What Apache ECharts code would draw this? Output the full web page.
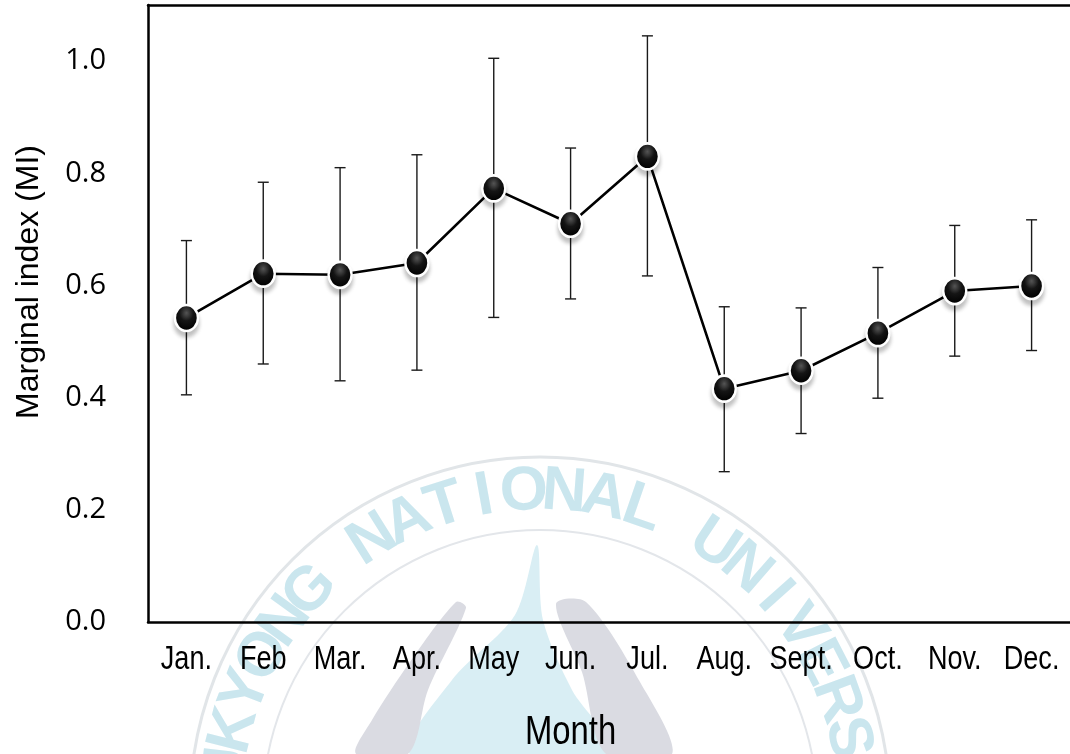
<!DOCTYPE html>
<html>
<head>
<meta charset="utf-8">
<title>Marginal index by month</title>
<script src="https://cdn.jsdelivr.net/npm/echarts@6/dist/echarts.min.js"></script>
<style>
  html, body { margin: 0; padding: 0; background: #ffffff; }
  #chart { width: 1070px; height: 754px; }
</style>
</head>
<body>
<div id="chart"></div>
<script>
// Monthly marginal index (mean with upper/lower error limits)
const months = ['Jan.', 'Feb', 'Mar.', 'Apr.', 'May', 'Jun.', 'Jul.', 'Aug.', 'Sept.', 'Oct.', 'Nov.', 'Dec.'];
const miMean  = [0.542, 0.621, 0.619, 0.640, 0.773, 0.710, 0.830, 0.416, 0.448, 0.515, 0.590, 0.599];
const miUpper = [0.680, 0.784, 0.810, 0.833, 1.005, 0.845, 1.045, 0.562, 0.560, 0.632, 0.707, 0.717];
const miLower = [0.405, 0.460, 0.430, 0.449, 0.543, 0.576, 0.617, 0.268, 0.336, 0.399, 0.474, 0.484];
const yTicks  = [0.0, 0.2, 0.4, 0.6, 0.8, 1.0];

const chart = echarts.init(document.getElementById('chart'), null, { renderer: 'canvas' });

// condensed sans look for the month labels
const NARROW = 0.82;
const sansFamily = '"Liberation Sans", Arial, sans-serif';

// Faint university seal behind the plot
const sealCx = 540, sealCy = 807;
const sealText = 'PUKYONG NATIONAL UNIVERSITY';
const sealElems = [
  { type: 'circle', z: -10, shape: { cx: sealCx, cy: sealCy, r: 350 },
    style: { fill: 'none', stroke: '#e1e5e8', lineWidth: 3 } },
  { type: 'circle', z: -10, shape: { cx: sealCx, cy: sealCy, r: 277 },
    style: { fill: 'none', stroke: '#e3e6ea', lineWidth: 2 } },
  { type: 'polygon', z: -10,
    shape: { points: [[537, 545], [543, 620], [572, 690], [612, 754], [410, 754], [452, 680], [515, 615]], smooth: 0.3 },
    style: { fill: '#d9eef4' } },
  { type: 'polygon', z: -9,
    shape: { points: [[456, 602], [410, 662], [372, 720], [356, 754], [408, 754], [428, 690], [466, 608]], smooth: 0.3 },
    style: { fill: '#dadbe2' } },
  { type: 'polygon', z: -9,
    shape: { points: [[556, 604], [582, 672], [606, 754], [672, 754], [640, 682], [586, 602]], smooth: 0.3 },
    style: { fill: '#dadbe2' } }
];
for (let i = 0; i < sealText.length; i++) {
  const ch = sealText[i];
  if (ch === ' ') continue;
  const ang = (i - 12.4) * 7.3 * Math.PI / 180;
  const r = 315;
  sealElems.push({
    type: 'text', z: -8,
    x: sealCx + r * Math.sin(ang),
    y: sealCy - r * Math.cos(ang),
    rotation: -ang,
    style: {
      text: ch, fill: '#cae6ee',
      font: 'bold 62px ' + sansFamily,
      align: 'center', verticalAlign: 'middle'
    }
  });
}

const option = {
  backgroundColor: '#ffffff',
  animation: false,
  grid: { left: 148, top: 5, width: 924, height: 617, show: false },
  xAxis: [
    {
      type: 'category',
      data: months,
      boundaryGap: true,
      axisLine: { lineStyle: { color: '#000', width: 2.5 } },
      axisTick: { inside: true, length: 9, lineStyle: { color: '#000', width: 2 } },
      axisLabel: { show: false },
      splitLine: { show: false }
    },
    {
      // top frame line
      type: 'category',
      data: months,
      position: 'top',
      axisLine: { show: true, lineStyle: { color: '#000', width: 2.5 } },
      axisTick: { show: false },
      axisLabel: { show: false },
      splitLine: { show: false }
    }
  ],
  yAxis: {
    type: 'value',
    min: 0, max: 1.1, interval: 0.2,
    axisLine: { show: true, lineStyle: { color: '#000', width: 2.5 } },
    axisTick: { inside: true, length: 10, lineStyle: { color: '#000', width: 2 } },
    axisLabel: {
      margin: 42, color: '#000', fontSize: 29,
      fontFamily: '"Open Sans", "Noto Sans", sans-serif',
      showMaxLabel: false,
      formatter: function (v) {
        return yTicks.some(t => Math.abs(t - v) < 1e-6) ? v.toFixed(1) : '';
      }
    },
    splitLine: { show: false }
  },
  graphic: sealElems,
  series: [
    {
      // error bars with caps
      type: 'custom',
      z: 1,
      data: months.map((m, i) => [i, miLower[i], miUpper[i]]),
      renderItem: function (params, api) {
        const i = api.value(0);
        const lo = api.coord([i, api.value(1)]);
        const hi = api.coord([i, api.value(2)]);
        const cap = 5.5;
        const st = { stroke: '#1a1a1a', lineWidth: 1.4 };
        return {
          type: 'group',
          children: [
            { type: 'line', shape: { x1: hi[0], y1: hi[1], x2: lo[0], y2: lo[1] }, style: st },
            { type: 'line', shape: { x1: hi[0] - cap, y1: hi[1], x2: hi[0] + cap, y2: hi[1] }, style: st },
            { type: 'line', shape: { x1: lo[0] - cap, y1: lo[1], x2: lo[0] + cap, y2: lo[1] }, style: st }
          ]
        };
      },
      silent: true
    },
    {
      type: 'line',
      z: 3,
      data: miMean,
      symbol: 'circle',
      symbolSize: [23, 26],
      lineStyle: { color: '#000', width: 2.6 },
      itemStyle: {
        color: {
          type: 'radial', x: 0.5, y: 0.32, r: 0.62,
          colorStops: [
            { offset: 0, color: '#5a5a5a' },
            { offset: 0.45, color: '#151515' },
            { offset: 1, color: '#000000' }
          ]
        },
        borderColor: '#ffffff',
        borderWidth: 2.5,
        shadowColor: 'rgba(0,0,0,0.22)',
        shadowBlur: 4,
        shadowOffsetY: 5
      },
      emphasis: { disabled: true }
    }
  ]
};

chart.setOption(option);

// Month labels and axis titles, placed from the category axis
const labelElems = months.map((m, i) => ({
  type: 'text', z: 10,
  x: chart.convertToPixel({ xAxisIndex: 0 }, i),
  y: 660,
  scaleX: NARROW,
  style: {
    text: m, fill: '#000',
    font: '33px ' + sansFamily,
    align: 'center', verticalAlign: 'middle'
  }
}));
labelElems.push({
  type: 'text', z: 10,
  x: chart.convertToPixel({ xAxisIndex: 0 }, 5),
  y: 733,
  scaleX: NARROW,
  style: {
    text: 'Month', fill: '#000',
    font: '40px ' + sansFamily,
    align: 'center', verticalAlign: 'middle'
  }
});
labelElems.push({
  type: 'text', z: 10,
  x: 29, y: 282, rotation: Math.PI / 2,
  style: {
    text: 'Marginal index (MI)', fill: '#000',
    font: '32px ' + sansFamily,
    align: 'center', verticalAlign: 'middle'
  }
});
chart.setOption({ graphic: sealElems.concat(labelElems) });
</script>
</body>
</html>
